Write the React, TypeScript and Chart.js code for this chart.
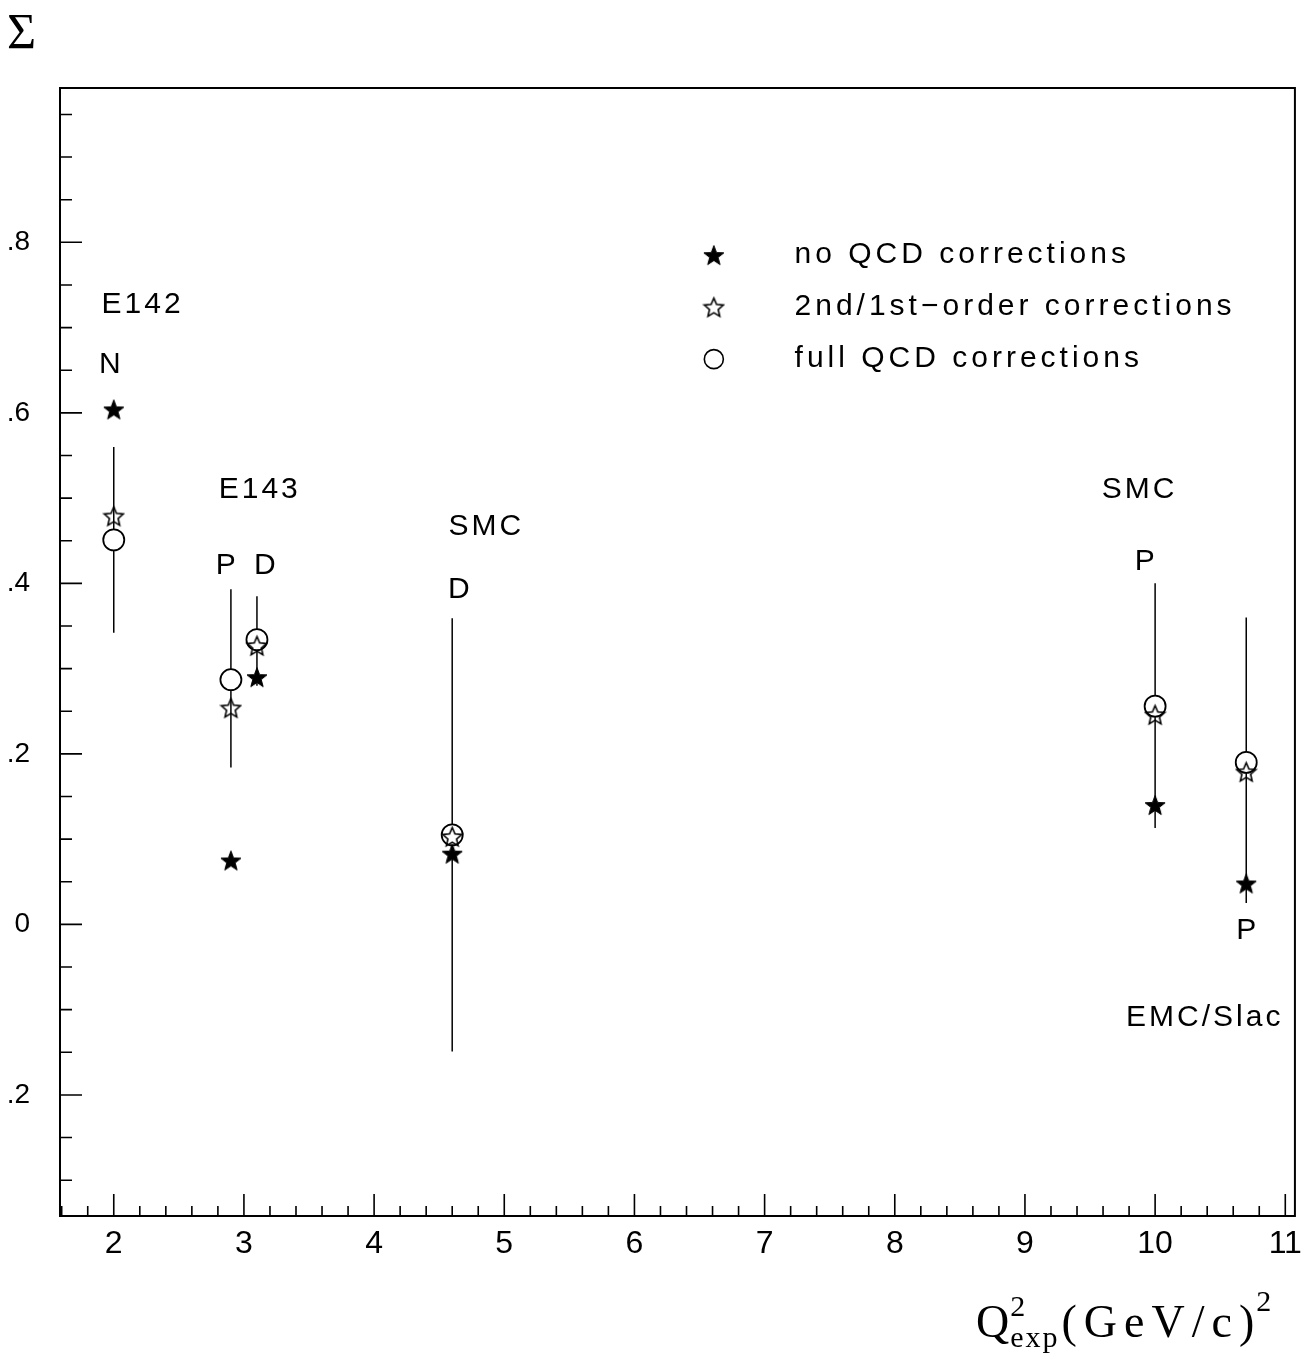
import React, { useEffect, useRef } from 'react';
import { Chart, registerables } from 'chart.js';

Chart.register(...registerables);

const W = 1311;
const H = 1354;

// ---- data ----
const q2Values = [2.0, 2.9, 3.1, 4.6, 10.0, 10.7];
const sigmaNoQCD = [0.604, 0.075, 0.29, 0.083, 0.14, 0.048];
const sigmaSecondFirst = [0.479, 0.254, 0.327, 0.103, 0.246, 0.179];
const sigmaFullQCD = [0.451, 0.287, 0.334, 0.105, 0.256, 0.19];
const errorLow = [0.342, 0.184, 0.28, -0.149, 0.113, 0.025];
const errorHigh = [0.56, 0.393, 0.385, 0.359, 0.4, 0.36];

const seriesLabels = ['no QCD corrections', '2nd/1st\u2212order corrections', 'full QCD corrections'];

const xMajorTicks = [2, 3, 4, 5, 6, 7, 8, 9, 10, 11];
const xTickLabels = ['2', '3', '4', '5', '6', '7', '8', '9', '10', '11'];
const yMajorTicks = [-0.2, 0, 0.2, 0.4, 0.6, 0.8];
const yTickLabels = ['.2', '0', '.2', '.4', '.6', '.8'];

const annotationTexts = ['E142', 'N', 'E143', 'P', 'D', 'SMC', 'D', 'SMC', 'P', 'P', 'EMC/Slac'];
const annotationX = [2.21, 1.97, 3.11, 2.86, 3.16, 4.85, 4.65, 9.87, 9.92, 10.7, 10.37];
const annotationY = [0.727, 0.657, 0.51, 0.421, 0.421, 0.466, 0.393, 0.51, 0.425, -0.008, -0.109];

const X_MIN = 1.587;
const X_MAX = 11.074;
const Y_MIN = -0.342;
const Y_MAX = 0.981;

const legendMarkerX = 6.61;
const legendTextX = 7.23;
const legendRowY = [0.785, 0.724, 0.663];

const SANS = '"Liberation Sans", "DejaVu Sans", sans-serif';
const SERIF = '"Liberation Serif", "DejaVu Serif", serif';

function makeStar(filled: boolean, size: number): HTMLCanvasElement {
  const c = document.createElement('canvas');
  c.width = size;
  c.height = size;
  const ctx = c.getContext('2d')!;
  const cx = size / 2;
  const cy = size / 2 + 1;
  const R = size / 2 - 1.5;
  const r = filled ? R * 0.42 : R * 0.46;
  ctx.beginPath();
  for (let i = 0; i < 10; i++) {
    const ang = -Math.PI / 2 + (i * Math.PI) / 5;
    const rad = i % 2 === 0 ? R : r;
    ctx.lineTo(cx + rad * Math.cos(ang), cy + rad * Math.sin(ang));
  }
  ctx.closePath();
  if (filled) {
    ctx.fillStyle = '#000';
    ctx.fill();
    ctx.strokeStyle = '#000';
    ctx.lineWidth = 1;
    ctx.stroke();
  } else {
    ctx.strokeStyle = '#000';
    ctx.lineWidth = 1.6;
    ctx.stroke();
  }
  return c;
}

function minorTicks(from: number, to: number, step: number, majors: number[]) {
  const out: number[] = [];
  const n = Math.round((to - from) / step);
  for (let i = 0; i <= n; i++) {
    const v = from + i * step;
    if (!majors.some((m) => Math.abs(m - v) < 1e-6)) out.push(v);
  }
  return out;
}

export default function App() {
  const ref = useRef<HTMLCanvasElement>(null);

  useEffect(() => {
    const canvas = ref.current!;
    const filledStar = makeStar(true, 24);
    const openStar = makeStar(false, 23);

    const xMinor = minorTicks(1.6, 11.0, 0.2, xMajorTicks);
    const yMinor = minorTicks(-0.3, 0.95, 0.05, yMajorTicks);

    const framePlugin = {
      id: 'frameAndExtras',
      beforeDatasetsDraw(chart: any) {
        const ctx = chart.ctx as CanvasRenderingContext2D;
        const xs = chart.scales.x;
        const ys = chart.scales.y;
        ctx.save();
        ctx.strokeStyle = '#000';
        ctx.lineWidth = 1.5;
        for (let i = 0; i < q2Values.length; i++) {
          const px = xs.getPixelForValue(q2Values[i]);
          ctx.beginPath();
          ctx.moveTo(px, ys.getPixelForValue(errorHigh[i]));
          ctx.lineTo(px, ys.getPixelForValue(errorLow[i]));
          ctx.stroke();
        }
        ctx.restore();
      },
      afterDraw(chart: any) {
        const ctx = chart.ctx as CanvasRenderingContext2D;
        const a = chart.chartArea;
        const xs = chart.scales.x;
        const ys = chart.scales.y;
        ctx.save();
        ctx.strokeStyle = '#000';
        ctx.lineWidth = 2;
        ctx.strokeRect(a.left, a.top, a.right - a.left, a.bottom - a.top);
        ctx.lineWidth = 1.6;
        ctx.beginPath();
        for (const v of yMajorTicks) {
          const py = ys.getPixelForValue(v);
          ctx.moveTo(a.left, py);
          ctx.lineTo(a.left + 22, py);
        }
        for (const v of yMinor) {
          const py = ys.getPixelForValue(v);
          ctx.moveTo(a.left, py);
          ctx.lineTo(a.left + 12, py);
        }
        for (const v of xMajorTicks) {
          const px = xs.getPixelForValue(v);
          ctx.moveTo(px, a.bottom);
          ctx.lineTo(px, a.bottom - 22);
        }
        for (const v of xMinor) {
          const px = xs.getPixelForValue(v);
          ctx.moveTo(px, a.bottom);
          ctx.lineTo(px, a.bottom - 10);
        }
        ctx.stroke();

        // annotations
        ctx.fillStyle = '#000';
        ctx.font = `30px ${SANS}`;
        (ctx as any).letterSpacing = '3px';
        ctx.textAlign = 'center';
        ctx.textBaseline = 'middle';
        for (let i = 0; i < annotationTexts.length; i++) {
          ctx.fillText(annotationTexts[i], xs.getPixelForValue(annotationX[i]) + 1.5, ys.getPixelForValue(annotationY[i]));
        }

        // legend
        const mx = xs.getPixelForValue(legendMarkerX);
        const tx = xs.getPixelForValue(legendTextX);
        ctx.textAlign = 'left';
        (ctx as any).letterSpacing = '4px';
        for (let i = 0; i < seriesLabels.length; i++) {
          const py = ys.getPixelForValue(legendRowY[i]);
          if (i === 0) ctx.drawImage(filledStar, mx - 12, py - 12);
          else if (i === 1) ctx.drawImage(openStar, mx - 11.5, py - 11.5);
          else {
            ctx.beginPath();
            ctx.lineWidth = 1.6;
            ctx.arc(mx, py, 9.5, 0, Math.PI * 2);
            ctx.stroke();
          }
          ctx.fillText(seriesLabels[i], tx, py);
        }

        // y-axis symbol
        (ctx as any).letterSpacing = '0px';
        ctx.font = `50px ${SERIF}`;
        ctx.textAlign = 'left';
        ctx.textBaseline = 'alphabetic';
        ctx.fillText('\u03A3', 7, 48);

        // x-axis title Q^2_exp (GeV/c)^2
        let x = 976;
        const base = 1337;
        ctx.font = `46px ${SERIF}`;
        ctx.fillText('Q', x, base);
        x += ctx.measureText('Q').width + 1;
        ctx.font = `30px ${SERIF}`;
        (ctx as any).letterSpacing = '2px';
        ctx.fillText('2', x, base - 21);
        ctx.fillText('exp', x, base + 10);
        x += ctx.measureText('exp').width + 2;
        ctx.font = `46px ${SERIF}`;
        (ctx as any).letterSpacing = '7px';
        ctx.fillText('(GeV/c)', x, base);
        x += ctx.measureText('(GeV/c)').width - 5;
        (ctx as any).letterSpacing = '0px';
        ctx.font = `30px ${SERIF}`;
        ctx.fillText('2', x, base - 26);
        ctx.restore();
      },
    };

    const mk = (ys: number[]) => q2Values.map((x, i) => ({ x, y: ys[i] }));

    const chart = new Chart(canvas, {
      type: 'scatter',
      data: {
        datasets: [
          {
            label: seriesLabels[0],
            data: mk(sigmaNoQCD),
            pointStyle: filledStar as any,
            pointRadius: 10,
          },
          {
            label: seriesLabels[1],
            data: mk(sigmaSecondFirst),
            pointStyle: openStar as any,
            pointRadius: 10,
          },
          {
            label: seriesLabels[2],
            data: mk(sigmaFullQCD),
            pointStyle: 'circle',
            pointRadius: 10.5,
            backgroundColor: '#ffffff',
            borderColor: '#000000',
            borderWidth: 1.8,
          },
        ],
      },
      options: {
        animation: false,
        responsive: false,
        devicePixelRatio: 1,
        layout: { padding: { top: 88, right: 13, left: 0, bottom: 0 } },
        plugins: { legend: { display: false }, tooltip: { enabled: false } },
        events: [],
        scales: {
          x: {
            type: 'linear',
            min: X_MIN,
            max: X_MAX,
            afterBuildTicks: (s: any) => {
              s.ticks = xMajorTicks.map((v) => ({ value: v }));
            },
            afterFit: (s: any) => {
              s.height = 138;
            },
            ticks: {
              autoSkip: false,
              maxRotation: 0,
              padding: 9,
              color: '#000',
              font: { family: SANS, size: 32 },
              callback: (v: any) => {
                const i = xMajorTicks.findIndex((m) => Math.abs(m - Number(v)) < 1e-6);
                return i >= 0 ? xTickLabels[i] : '';
              },
            },
            grid: { display: false, drawTicks: false },
            border: { display: false },
          },
          y: {
            type: 'linear',
            min: Y_MIN,
            max: Y_MAX,
            afterBuildTicks: (s: any) => {
              s.ticks = yMajorTicks.map((v) => ({ value: v }));
            },
            afterFit: (s: any) => {
              s.width = 60;
            },
            ticks: {
              autoSkip: false,
              padding: 30,
              color: '#000',
              font: { family: SANS, size: 28 },
              callback: (v: any) => {
                const i = yMajorTicks.findIndex((m) => Math.abs(m - Number(v)) < 1e-6);
                return i >= 0 ? yTickLabels[i] : '';
              },
            },
            grid: { display: false, drawTicks: false },
            border: { display: false },
          },
        },
      },
      plugins: [framePlugin],
    });

    return () => chart.destroy();
  }, []);

  return (
    <div style={{ position: 'absolute', left: 0, top: 0, width: W, height: H, background: '#fff' }}>
      <canvas ref={ref} width={W} height={H} style={{ width: W, height: H, display: 'block' }} />
    </div>
  );
}
